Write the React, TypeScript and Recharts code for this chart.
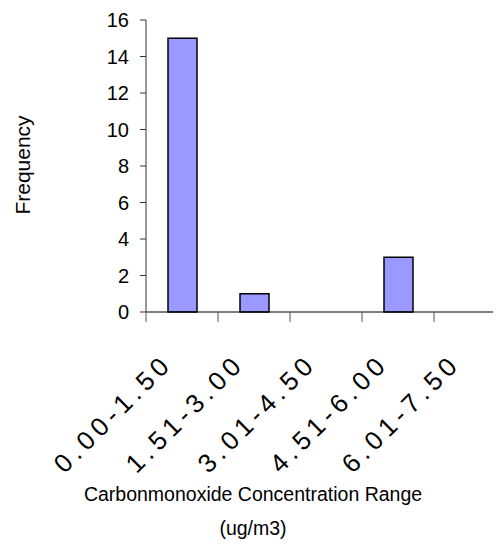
import { BarChart, Bar, XAxis, YAxis, Label } from 'recharts';

const ranges = ['0.00-1.50', '1.51-3.00', '3.01-4.50', '4.51-6.00', '6.01-7.50'];
const frequency = [15, 1, 0, 3, 0];
const yTicks = [0, 2, 4, 6, 8, 10, 12, 14, 16];

const data = ranges.map((range, i) => ({ range, count: frequency[i] }));

const FONT = '"Liberation Sans", Arial, sans-serif';
const WIDTH = 520;
const HEIGHT = 542;
const MARGIN = { top: 12, right: 22, bottom: 178, left: 0 };
const Y_AXIS_W = 138;
const PLOT_W = WIDTH - MARGIN.left - MARGIN.right - Y_AXIS_W;
const BAND = PLOT_W / ranges.length;
const PLOT_BOTTOM = 304;

function RangeTick(props: any) {
  const { x, payload } = props;
  const ax = x - 8;
  const ay = PLOT_BOTTOM + 53;
  return (
    <g>
      <line x1={x - BAND / 2} y1={PLOT_BOTTOM} x2={x - BAND / 2} y2={PLOT_BOTTOM + 10} stroke="#555" />
      <text
        x={ax}
        y={ay}
        textAnchor="end"
        fill="#000"
        style={{ fontSize: 26, letterSpacing: 5, fontFamily: FONT }}
        transform={`rotate(-45, ${ax}, ${ay})`}
      >
        {payload.value}
      </text>
    </g>
  );
}

export default function App() {
  return (
    <div style={{ width: 493, height: 542, overflow: 'hidden' }}>
      <BarChart width={WIDTH} height={HEIGHT} data={data} margin={MARGIN}>
        <XAxis
          dataKey="range"
          axisLine={{ stroke: '#000' }}
          tickLine={false}
          tick={(p: any) => <RangeTick {...p} />}
          interval={0}
          height={60}
        >
          <Label
            content={() => (
              <text x={245} y={493} textAnchor="middle" fontSize={19.5} fontFamily={FONT} fill="#000">
                <tspan x={245} dy={0}>Carbonmonoxide Concentration Range</tspan>
                <tspan x={245} dy={34}>(ug/m3)</tspan>
              </text>
            )}
          />
        </XAxis>
        <YAxis
          width={Y_AXIS_W}
          domain={[0, 16]}
          ticks={yTicks}
          interval={0}
          tickSize={6}
          tickMargin={11}
          axisLine={{ stroke: '#333' }}
          tickLine={{ stroke: '#333' }}
          tick={{ fontSize: 20, fill: '#000', fontFamily: FONT }}
        >
          <Label
            content={() => (
              <text
                x={14.5}
                y={157}
                textAnchor="middle"
                dominantBaseline="central"
                fontSize={21}
                fontFamily={FONT}
                fill="#000"
                transform="rotate(-90, 14.5, 157)"
              >
                Frequency
              </text>
            )}
          />
        </YAxis>
        <Bar dataKey="count" fill="#9999FF" stroke="#000" strokeWidth={1.5} barSize={29} isAnimationActive={false} />
      </BarChart>
    </div>
  );
}
